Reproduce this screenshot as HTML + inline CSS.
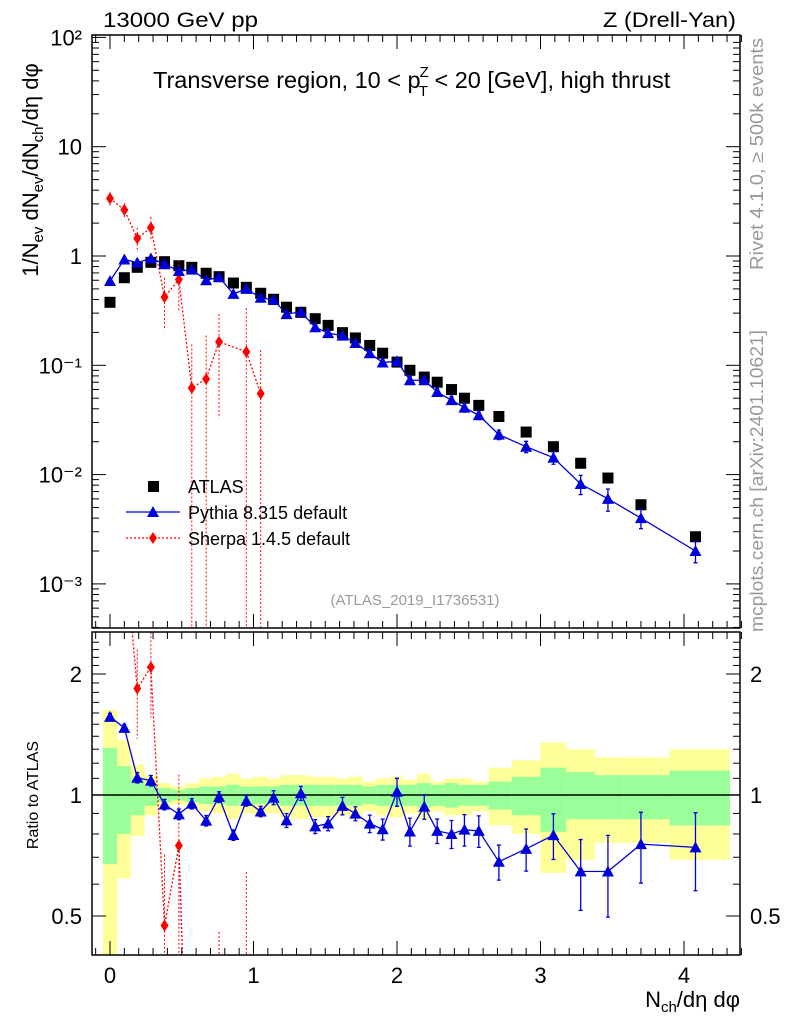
<!DOCTYPE html>
<html><head><meta charset="utf-8"><style>
html,body{margin:0;padding:0;background:#fff;width:786px;height:1024px;overflow:hidden;}
svg{display:block;font-family:"Liberation Sans",sans-serif;}
</style></head><body>
<svg id="c" width="786" height="1024" viewBox="0 0 786 1024" xmlns="http://www.w3.org/2000/svg">
<text x="103" y="27" font-size="21" textLength="155" lengthAdjust="spacingAndGlyphs">13000 GeV pp</text>
<text x="603" y="27" font-size="21" textLength="133" lengthAdjust="spacingAndGlyphs">Z (Drell-Yan)</text>
<text x="153" y="88" font-size="23.5">Transverse region, 10 &lt; p<tspan font-size="15" dx="-1" dy="-11">Z</tspan><tspan font-size="15" dx="-10" dy="19">T</tspan><tspan dy="-8"> &lt; 20 [GeV], high thrust</tspan></text>
<text transform="translate(763,270) rotate(-90)" font-size="18" fill="#999" textLength="232" lengthAdjust="spacingAndGlyphs">Rivet 4.1.0, ≥ 500k events</text>
<text transform="translate(763,632) rotate(-90)" font-size="18" fill="#999" textLength="302" lengthAdjust="spacingAndGlyphs">mcplots.cern.ch [arXiv:2401.10621]</text>
<text transform="translate(38,170) rotate(-90)" font-size="22" text-anchor="middle">1/N<tspan font-size="15" dy="5">ev</tspan><tspan dy="-5"> dN</tspan><tspan font-size="15" dy="5">ev</tspan><tspan dy="-5">/dN</tspan><tspan font-size="15" dy="5">ch</tspan><tspan dy="-5">/dη dφ</tspan></text>
<text transform="translate(38,795) rotate(-90)" font-size="16" text-anchor="middle">Ratio to ATLAS</text>
<text x="740" y="1007" font-size="22" text-anchor="end">N<tspan font-size="15" dy="5">ch</tspan><tspan dy="-5">/dη dφ</tspan></text>
<text x="415" y="605" font-size="15" fill="#999" text-anchor="middle">(ATLAS_2019_I1736531)</text>
<g id="g"></g>
</svg>
<script>
const xs=[0,0.1,0.19,0.285,0.38,0.48,0.57,0.67,0.76,0.86,0.95,1.05,1.14,1.23,1.33,1.43,1.52,1.62,1.71,1.81,1.9,2.0,2.09,2.19,2.28,2.38,2.47,2.57,2.71,2.9,3.09,3.28,3.47,3.7,4.08];
const atlas=[0.377,0.633,0.788,0.875,0.887,0.815,0.788,0.695,0.647,0.566,0.517,0.456,0.402,0.34,0.305,0.267,0.232,0.199,0.178,0.152,0.129,0.107,0.09,0.078,0.07,0.06,0.05,0.043,0.034,0.0245,0.018,0.0127,0.0093,0.0053,0.0027];
const pythia=[0.59,0.93,0.87,0.95,0.84,0.73,0.75,0.60,0.64,0.45,0.50,0.415,0.396,0.294,0.308,0.223,0.197,0.187,0.16,0.129,0.106,0.109,0.073,0.073,0.057,0.048,0.041,0.035,0.0232,0.018,0.0143,0.0082,0.006,0.004,0.002];
const pythiaErr=[0.02,0.02,0.03,0.03,0.03,0.03,0.03,0.03,0.03,0.03,0.03,0.03,0.04,0.04,0.04,0.04,0.04,0.05,0.04,0.05,0.06,0.08,0.08,0.07,0.07,0.08,0.09,0.09,0.1,0.12,0.13,0.2,0.23,0.2,0.22];
const sherpaX=[0,0.1,0.19,0.285,0.38,0.48,0.57,0.67,0.76,0.95,1.05];
const sherpa=[3.37,2.64,1.45,1.82,0.42,0.61,0.062,0.075,0.164,0.133,0.055];
const sherpaErr=[0.15,0.15,0.25,0.25,0.5,0.5,1.5,1.5,0.8,1.5,1.5];
const edges=[-0.05,0.05,0.145,0.24,0.33,0.43,0.525,0.62,0.715,0.81,0.905,1.0,1.095,1.185,1.28,1.38,1.475,1.57,1.665,1.76,1.855,1.95,2.045,2.14,2.235,2.33,2.425,2.52,2.64,2.8,3.0,3.18,3.38,3.58,3.9,4.32];
const grnUp=[1.31,1.18,1.10,1.06,1.04,1.03,1.04,1.05,1.05,1.06,1.05,1.05,1.05,1.06,1.06,1.06,1.06,1.06,1.06,1.05,1.06,1.06,1.06,1.07,1.06,1.07,1.06,1.06,1.08,1.11,1.17,1.14,1.12,1.12,1.15];
const grnDn=[0.674,0.80,0.89,0.94,0.96,0.97,0.96,0.95,0.95,0.94,0.95,0.95,0.95,0.94,0.94,0.94,0.94,0.94,0.94,0.95,0.94,0.94,0.94,0.93,0.94,0.93,0.94,0.94,0.92,0.89,0.81,0.87,0.87,0.87,0.84];
const ylwUp=[1.63,1.37,1.19,1.12,1.07,1.05,1.07,1.10,1.11,1.13,1.10,1.11,1.10,1.12,1.12,1.11,1.11,1.10,1.11,1.08,1.10,1.11,1.09,1.13,1.08,1.10,1.10,1.08,1.17,1.22,1.35,1.30,1.24,1.24,1.30];
const ylwDn=[0.3,0.62,0.79,0.89,0.93,0.95,0.93,0.91,0.90,0.87,0.90,0.89,0.90,0.88,0.87,0.88,0.88,0.89,0.88,0.91,0.89,0.88,0.90,0.87,0.91,0.89,0.89,0.91,0.84,0.80,0.64,0.69,0.76,0.76,0.69];
const mainYTicks=["10\u207B\u00B3","10\u207B\u00B2","10\u207B\u00B9","1","10","10\u00B2"];
const xTicks=["0","1","2","3","4"];
const ratioTicks=[0.5,1,2];

const L=92,R=740,T=35,MB=628,RT=632,RB=955;
const X=v=>110+v*143.5;
const Y=v=>256-Math.log10(v)*109.3;
const RY=v=>795-Math.log2(v)*121;
const NS="http://www.w3.org/2000/svg",G=document.getElementById('g');
function el(t,a,p){const e=document.createElementNS(NS,t);for(const k in a)e.setAttribute(k,a[k]);(p||G).appendChild(e);return e;}
function clip(id,y1,y2){const c=el('clipPath',{id:id});el('rect',{x:L,y:y1,width:R-L,height:y2-y1},c);}
clip('cm',T,MB);clip('cr',RT,RB);
const gm=el('g',{'clip-path':'url(#cm)'});


const gr=el('g',{'clip-path':'url(#cr)'});


for(let i=0;i<xs.length;i++){
  const x1=X(edges[i]),x2=X(edges[i+1]);
  const y=el('rect',{x:x1,y:RY(ylwUp[i]),width:x2-x1,height:RY(ylwDn[i])-RY(ylwUp[i]),fill:'#ffff99'},gr);
  
  
  const g=el('rect',{x:x1,y:RY(grnUp[i]),width:x2-x1,height:RY(grnDn[i])-RY(grnUp[i]),fill:'#99ff99'},gr);
  
  
}
el('line',{x1:L,x2:R,y1:RY(1),y2:RY(1),stroke:'#000','stroke-width':1.5},gr);
function sherpaDraw(par,yf,vals){
  let pts=[];
  for(let i=0;i<sherpaX.length;i++){const x=X(sherpaX[i]),y=yf(vals[i]);pts.push(x+','+y);
    const e=el('line',{x1:x,x2:x,y1:yf(vals[i]*(1+sherpaErr[i])),y2:Math.min(yf(Math.max(vals[i]*(1-sherpaErr[i]),1e-9)),2000),stroke:'red','stroke-width':1,'stroke-dasharray':'2,2'},par);
    
    
  }
  el('polyline',{points:pts.join(' '),fill:'none',stroke:'red','stroke-width':1.3,'stroke-dasharray':'2,2'},par);
  for(let i=0;i<sherpaX.length;i++){const x=X(sherpaX[i]),y=yf(vals[i]);
    const d=el('polygon',{points:`${x},${y-6} ${x+4},${y} ${x},${y+6} ${x-4},${y}`,fill:'red'},par);
    
    
  }
}
function pythiaDraw(par,yf,vals){
  let pts=[];
  for(let i=0;i<xs.length;i++){const x=X(xs[i]),y=yf(vals[i]);pts.push(x+','+y);
    const e=pythiaErr[i];
    const b=el('path',{d:`M${x},${yf(vals[i]*(1+e))}V${yf(vals[i]*(1-e))}M${x-2},${yf(vals[i]*(1+e))}h4M${x-2},${yf(vals[i]*(1-e))}h4`,stroke:'#0000dd','stroke-width':1.3,fill:'none'},par);
    
    
  }
  el('polyline',{points:pts.join(' '),fill:'none',stroke:'#0000dd','stroke-width':1.3},par);
  for(let i=0;i<xs.length;i++){const x=X(xs[i]),y=yf(vals[i]);
    const t=el('polygon',{points:`${x},${y-6} ${x+6},${y+5} ${x-6},${y+5}`,fill:'#0000dd'},par);
    
    
  }
}
for(let i=0;i<xs.length;i++){const x=X(xs[i]),y=Y(atlas[i]);
  const s=el('rect',{x:x-5.5,y:y-5.5,width:11,height:11,fill:'#000'},gm);
  
  
}
sherpaDraw(gm,Y,sherpa);
pythiaDraw(gm,Y,pythia);
sherpaDraw(gr,RY,sherpa.map((v,i)=>v/atlas[xs.indexOf(sherpaX[i])]));
pythiaDraw(gr,RY,pythia.map((v,i)=>v/atlas[i]));
for(const [a,b] of [[T,MB],[RT,RB]]) el('rect',{x:L,y:a,width:R-L,height:b-a,fill:'none',stroke:'#000','stroke-width':1.5});
for(let v=-0.1;v<=4.41;v+=0.1){const x=X(v),maj=Math.abs(v-Math.round(v))<0.01,h=maj?14:7;
  for(const [a,b] of [[T,MB],[RT,RB]]){el('line',{x1:x,x2:x,y1:b,y2:b-h,stroke:'#000'});el('line',{x1:x,x2:x,y1:a,y2:a+h,stroke:'#000'});}
}
xTicks.forEach((t,i)=>{const e=el('text',{x:X(i),y:983,'font-size':22,'text-anchor':'middle'});e.textContent=t;
  
  });
for(let d=-4;d<2;d++){for(let m=1;m<10;m++){const v=m*Math.pow(10,d),y=Y(v);if(y<T||y>MB)continue;const h=m==1?14:7;
  el('line',{x1:L,x2:L+h,y1:y,y2:y,stroke:'#000'});el('line',{x1:R,x2:R-h,y1:y,y2:y,stroke:'#000'});}}
el('line',{x1:L,x2:L+14,y1:Y(100),y2:Y(100),stroke:'#000'});
mainYTicks.forEach((t,i)=>{const e=el('text',{x:82,y:Y(Math.pow(10,i-3))+8,'font-size':22,'text-anchor':'end'});e.textContent=t;
  
  });
for(let v=0.4;v<=2.5;v+=0.1){const y=RY(v);if(y<RT||y>RB)continue;const maj=[0.5,1,2].some(q=>Math.abs(q-v)<0.01),h=maj?14:7;
  el('line',{x1:L,x2:L+h,y1:y,y2:y,stroke:'#000'});el('line',{x1:R,x2:R-h,y1:y,y2:y,stroke:'#000'});}
ratioTicks.forEach(v=>{for(const [x,a] of [[82,'end'],[750,'start']]){const e=el('text',{x:x,y:RY(v)+8,'font-size':22,'text-anchor':a});e.textContent=String(v);
  
  }});
const lg=el('g',{});


el('rect',{x:148,y:481,width:11,height:11,fill:'#000'},lg);
el('line',{x1:126,x2:180,y1:512,y2:512,stroke:'#0000dd','stroke-width':1.3},lg);
el('polygon',{points:'153,506 159,517 147,517',fill:'#0000dd'},lg);
el('line',{x1:126,x2:180,y1:538,y2:538,stroke:'red','stroke-width':1.3,'stroke-dasharray':'2,2'},lg);
el('polygon',{points:'153,532 157,538 153,544 149,538',fill:'red'},lg);
[['ATLAS',493],['Pythia 8.315 default',519],['Sherpa 1.4.5 default',545]].forEach(([t,y])=>{const e=el('text',{x:188,y:y,'font-size':18},lg);e.textContent=t;
  
  });
</script>
</body></html>
